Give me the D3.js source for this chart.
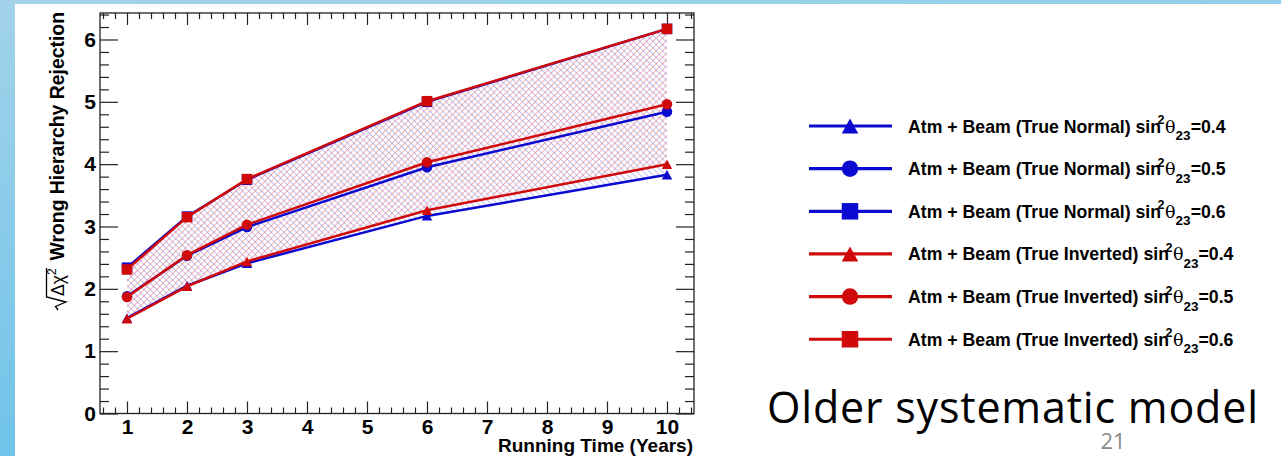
<!DOCTYPE html>
<html>
<head>
<meta charset="utf-8">
<script src="https://cdn.jsdelivr.net/npm/d3@7"></script>
<style>
  html, body { margin: 0; padding: 0; background: #fff; }
  svg { display: block; }
</style>
</head>
<body>
<svg id="chart" width="1281" height="456"></svg>
<script>
// ---------------- data ----------------
const years = [1, 2, 3, 6, 10];
const normal04   = [1.53, 2.05, 2.41, 3.17, 3.83];
const normal05   = [1.88, 2.53, 2.99, 3.95, 4.84];
const normal06   = [2.34, 3.16, 3.75, 5.00, 6.17];
const inverted04 = [1.52, 2.04, 2.44, 3.26, 4.00];
const inverted05 = [1.87, 2.54, 3.03, 4.03, 4.96];
const inverted06 = [2.31, 3.15, 3.76, 5.01, 6.17];

const xTicks = [1, 2, 3, 4, 5, 6, 7, 8, 9, 10];
const yTicks = [0, 1, 2, 3, 4, 5, 6];
const hierarchies = ["Normal", "Inverted"];
const sinValues = ["0.4", "0.5", "0.6"];
const markerShapes = ["triangle", "circle", "square"];

const xTitle = "Running Time (Years)";
const yTitle = "Wrong Hierarchy Rejection";
const slideText = "Older systematic model";
const pageNumber = "21";

// ---------------- setup ----------------
const BLUE = "#0a0ad0", RED = "#d00a0a";
const FONT = "'Liberation Sans', Arial, sans-serif";
const svg = d3.select("#chart");
const W = 1281, H = 456;

const defs = svg.append("defs");
const bg = defs.append("linearGradient").attr("id", "bg")
  .attr("x1", "0").attr("y1", "0").attr("x2", "0.3").attr("y2", "1");
bg.append("stop").attr("offset", "0").attr("stop-color", "#a2d3ea");
bg.append("stop").attr("offset", "1").attr("stop-color", "#6cc2e9");
svg.append("rect").attr("width", W).attr("height", H).attr("fill", "url(#bg)");
svg.append("rect").attr("x", 15).attr("y", 4).attr("width", W - 15).attr("height", H - 4).attr("fill", "#fff");

function hatch(id, color, angle) {
  const p = defs.append("pattern").attr("id", id).attr("patternUnits", "userSpaceOnUse")
    .attr("width", 4.5).attr("height", 10).attr("patternTransform", `rotate(${angle})`);
  p.append("line").attr("x1", 0.5).attr("x2", 0.5).attr("y1", 0).attr("y2", 10)
    .attr("stroke", color).attr("stroke-width", 0.8);
}
hatch("hBlue", "rgba(90,90,240,0.5)", -45);
hatch("hRed", "rgba(235,90,90,0.6)", 45);

const x = d3.scaleLinear().domain([0.55, 10.45]).range([100, 694]);
const y = d3.scaleLinear().domain([0, 6.425]).range([413.5, 13]);

const minorX = d3.range(0.6, 10.45, 0.2).filter(v => Math.abs(v - Math.round(v)) > 0.01);
const minorY = d3.range(0.2, 6.42, 0.2).filter(v => Math.abs(v - Math.round(v)) > 0.01);

const axColor = "#222";
function styleAxis(g) {
  g.select(".domain").remove();
  g.selectAll("line").attr("stroke", axColor).attr("stroke-width", 1.2);
  g.selectAll("text").attr("font-family", FONT)
    .attr("font-weight", "bold").attr("font-size", 21).attr("fill", "#000");
}

// ---------------- areas ----------------
const area = (lo, hi) => d3.area()
  .x((d, i) => x(years[i])).y0((d, i) => y(lo[i])).y1((d, i) => y(hi[i]))(years);
svg.append("path").attr("d", area(normal04, normal06)).attr("fill", "url(#hBlue)");
svg.append("path").attr("d", area(inverted04, inverted06)).attr("fill", "url(#hRed)");

// ---------------- axes ----------------
svg.append("g").attr("transform", "translate(0,413.5)")
  .call(d3.axisBottom(x).tickValues(xTicks).tickSize(-12).tickPadding(6).tickFormat(d3.format("d")))
  .call(styleAxis);
svg.append("g").attr("transform", "translate(0,413.5)")
  .call(d3.axisBottom(x).tickValues(minorX).tickSize(-6).tickFormat(""))
  .call(styleAxis);
svg.append("g").attr("transform", "translate(0,13)")
  .call(d3.axisTop(x).tickValues(xTicks).tickSize(-12).tickFormat(""))
  .call(styleAxis);
svg.append("g").attr("transform", "translate(0,13)")
  .call(d3.axisTop(x).tickValues(minorX).tickSize(-6).tickFormat(""))
  .call(styleAxis);

svg.append("g").attr("transform", "translate(100,0)")
  .call(d3.axisLeft(y).tickValues(yTicks).tickSize(-18).tickPadding(4).tickFormat(d3.format("d")))
  .call(styleAxis);
svg.append("g").attr("transform", "translate(100,0)")
  .call(d3.axisLeft(y).tickValues(minorY).tickSize(-9).tickFormat(""))
  .call(styleAxis);
svg.append("g").attr("transform", "translate(694,0)")
  .call(d3.axisRight(y).tickValues(yTicks).tickSize(-18).tickFormat(""))
  .call(styleAxis);
svg.append("g").attr("transform", "translate(694,0)")
  .call(d3.axisRight(y).tickValues(minorY).tickSize(-9).tickFormat(""))
  .call(styleAxis);

svg.append("rect").attr("x", 100).attr("y", 13).attr("width", 594).attr("height", 400.5)
  .attr("fill", "none").attr("stroke", axColor).attr("stroke-width", 1.3);

// ---------------- series ----------------
const series = [
  { vals: normal04, color: BLUE, shape: "triangle" },
  { vals: normal05, color: BLUE, shape: "circle" },
  { vals: normal06, color: BLUE, shape: "square" },
  { vals: inverted04, color: RED, shape: "triangle" },
  { vals: inverted05, color: RED, shape: "circle" },
  { vals: inverted06, color: RED, shape: "square" }
];

function drawMarker(g, shape, cx, cy, s, color) {
  if (shape === "circle") {
    g.append("circle").attr("cx", cx).attr("cy", cy).attr("r", s / 2).attr("fill", color);
  } else if (shape === "square") {
    g.append("rect").attr("x", cx - s / 2).attr("y", cy - s / 2).attr("width", s).attr("height", s).attr("fill", color);
  } else {
    const h = s * 0.9;
    g.append("path").attr("d", `M${cx - s / 2},${cy + h / 2} L${cx + s / 2},${cy + h / 2} L${cx},${cy - h / 2} Z`).attr("fill", color);
  }
}

const line = vals => d3.line().x((d, i) => x(years[i])).y((d, i) => y(vals[i]))(years);
series.forEach(s => {
  const g = svg.append("g");
  g.append("path").attr("d", line(s.vals)).attr("fill", "none").attr("stroke", s.color).attr("stroke-width", 2.5);
  s.vals.forEach((v, i) => drawMarker(g, s.shape, x(years[i]), y(v), 10.5, s.color));
});

// ---------------- legend ----------------
const legendRows = [];
hierarchies.forEach((h, hi) => sinValues.forEach((sv, si) =>
  legendRows.push({ h, sv, shape: markerShapes[si], color: hi === 0 ? BLUE : RED })));

const lg = svg.append("g");
legendRows.forEach((r, i) => {
  const cy = 126 + i * 42.65;
  lg.append("line").attr("x1", 809).attr("x2", 892).attr("y1", cy).attr("y2", cy)
    .attr("stroke", r.color).attr("stroke-width", 3.2);
  drawMarker(lg, r.shape, 850, cy, 16.5, r.color);
  const t = lg.append("text").attr("x", 908).attr("y", cy + 6.5)
    .attr("font-family", FONT).attr("font-weight", "bold")
    .attr("font-size", 17.7).attr("fill", "#000");
  t.append("tspan").text(`Atm + Beam (True ${r.h}) sin`);
  t.append("tspan").attr("dx", -3.5).attr("dy", -8.5).attr("font-size", 12.5).text("2");
  t.append("tspan").attr("dx", 0.5).attr("dy", 8.5).attr("font-weight", "normal")
    .attr("font-family", "'DejaVu Serif', serif").attr("font-size", 17.5).text("θ");
  t.append("tspan").attr("dy", 7.5).attr("font-size", 13.5).text("23");
  t.append("tspan").attr("dy", -7.5).text(`=${r.sv}`);
});

// ---------------- titles ----------------
svg.append("text").attr("x", 693).attr("y", 452).attr("text-anchor", "end")
  .attr("font-family", FONT).attr("font-weight", "bold")
  .attr("font-size", 19).text(xTitle);

const yt = svg.append("g").attr("transform", "translate(64,310) rotate(-90)");
yt.append("path").attr("d", "M0,-6 L3.5,-8.5 L8,2 L13,-17.5 L42,-17.5")
  .attr("fill", "none").attr("stroke", "#000").attr("stroke-width", 1.3);
const ytt = yt.append("text").attr("x", 14).attr("y", 0)
  .attr("font-family", FONT).attr("font-size", 17.5).attr("fill", "#000");
ytt.append("tspan").text("Δχ");
ytt.append("tspan").attr("dy", -8).attr("font-size", 12).text("2");
yt.append("text").attr("x", 298).attr("y", 0).attr("text-anchor", "end")
  .attr("font-family", FONT).attr("font-weight", "bold")
  .attr("font-size", 19.4).text(yTitle);

svg.append("text").attr("x", 767).attr("y", 423)
  .attr("font-family", "'Open Sans', sans-serif").attr("font-size", 43).attr("fill", "#000")
  .attr("textLength", 491).attr("lengthAdjust", "spacing")
  .text(slideText);
svg.append("text").attr("x", 1113).attr("y", 449).attr("text-anchor", "middle")
  .attr("font-family", "'Open Sans', sans-serif").attr("font-size", 22).attr("fill", "#8a8a8a")
  .text(pageNumber);
</script>
</body>
</html>
